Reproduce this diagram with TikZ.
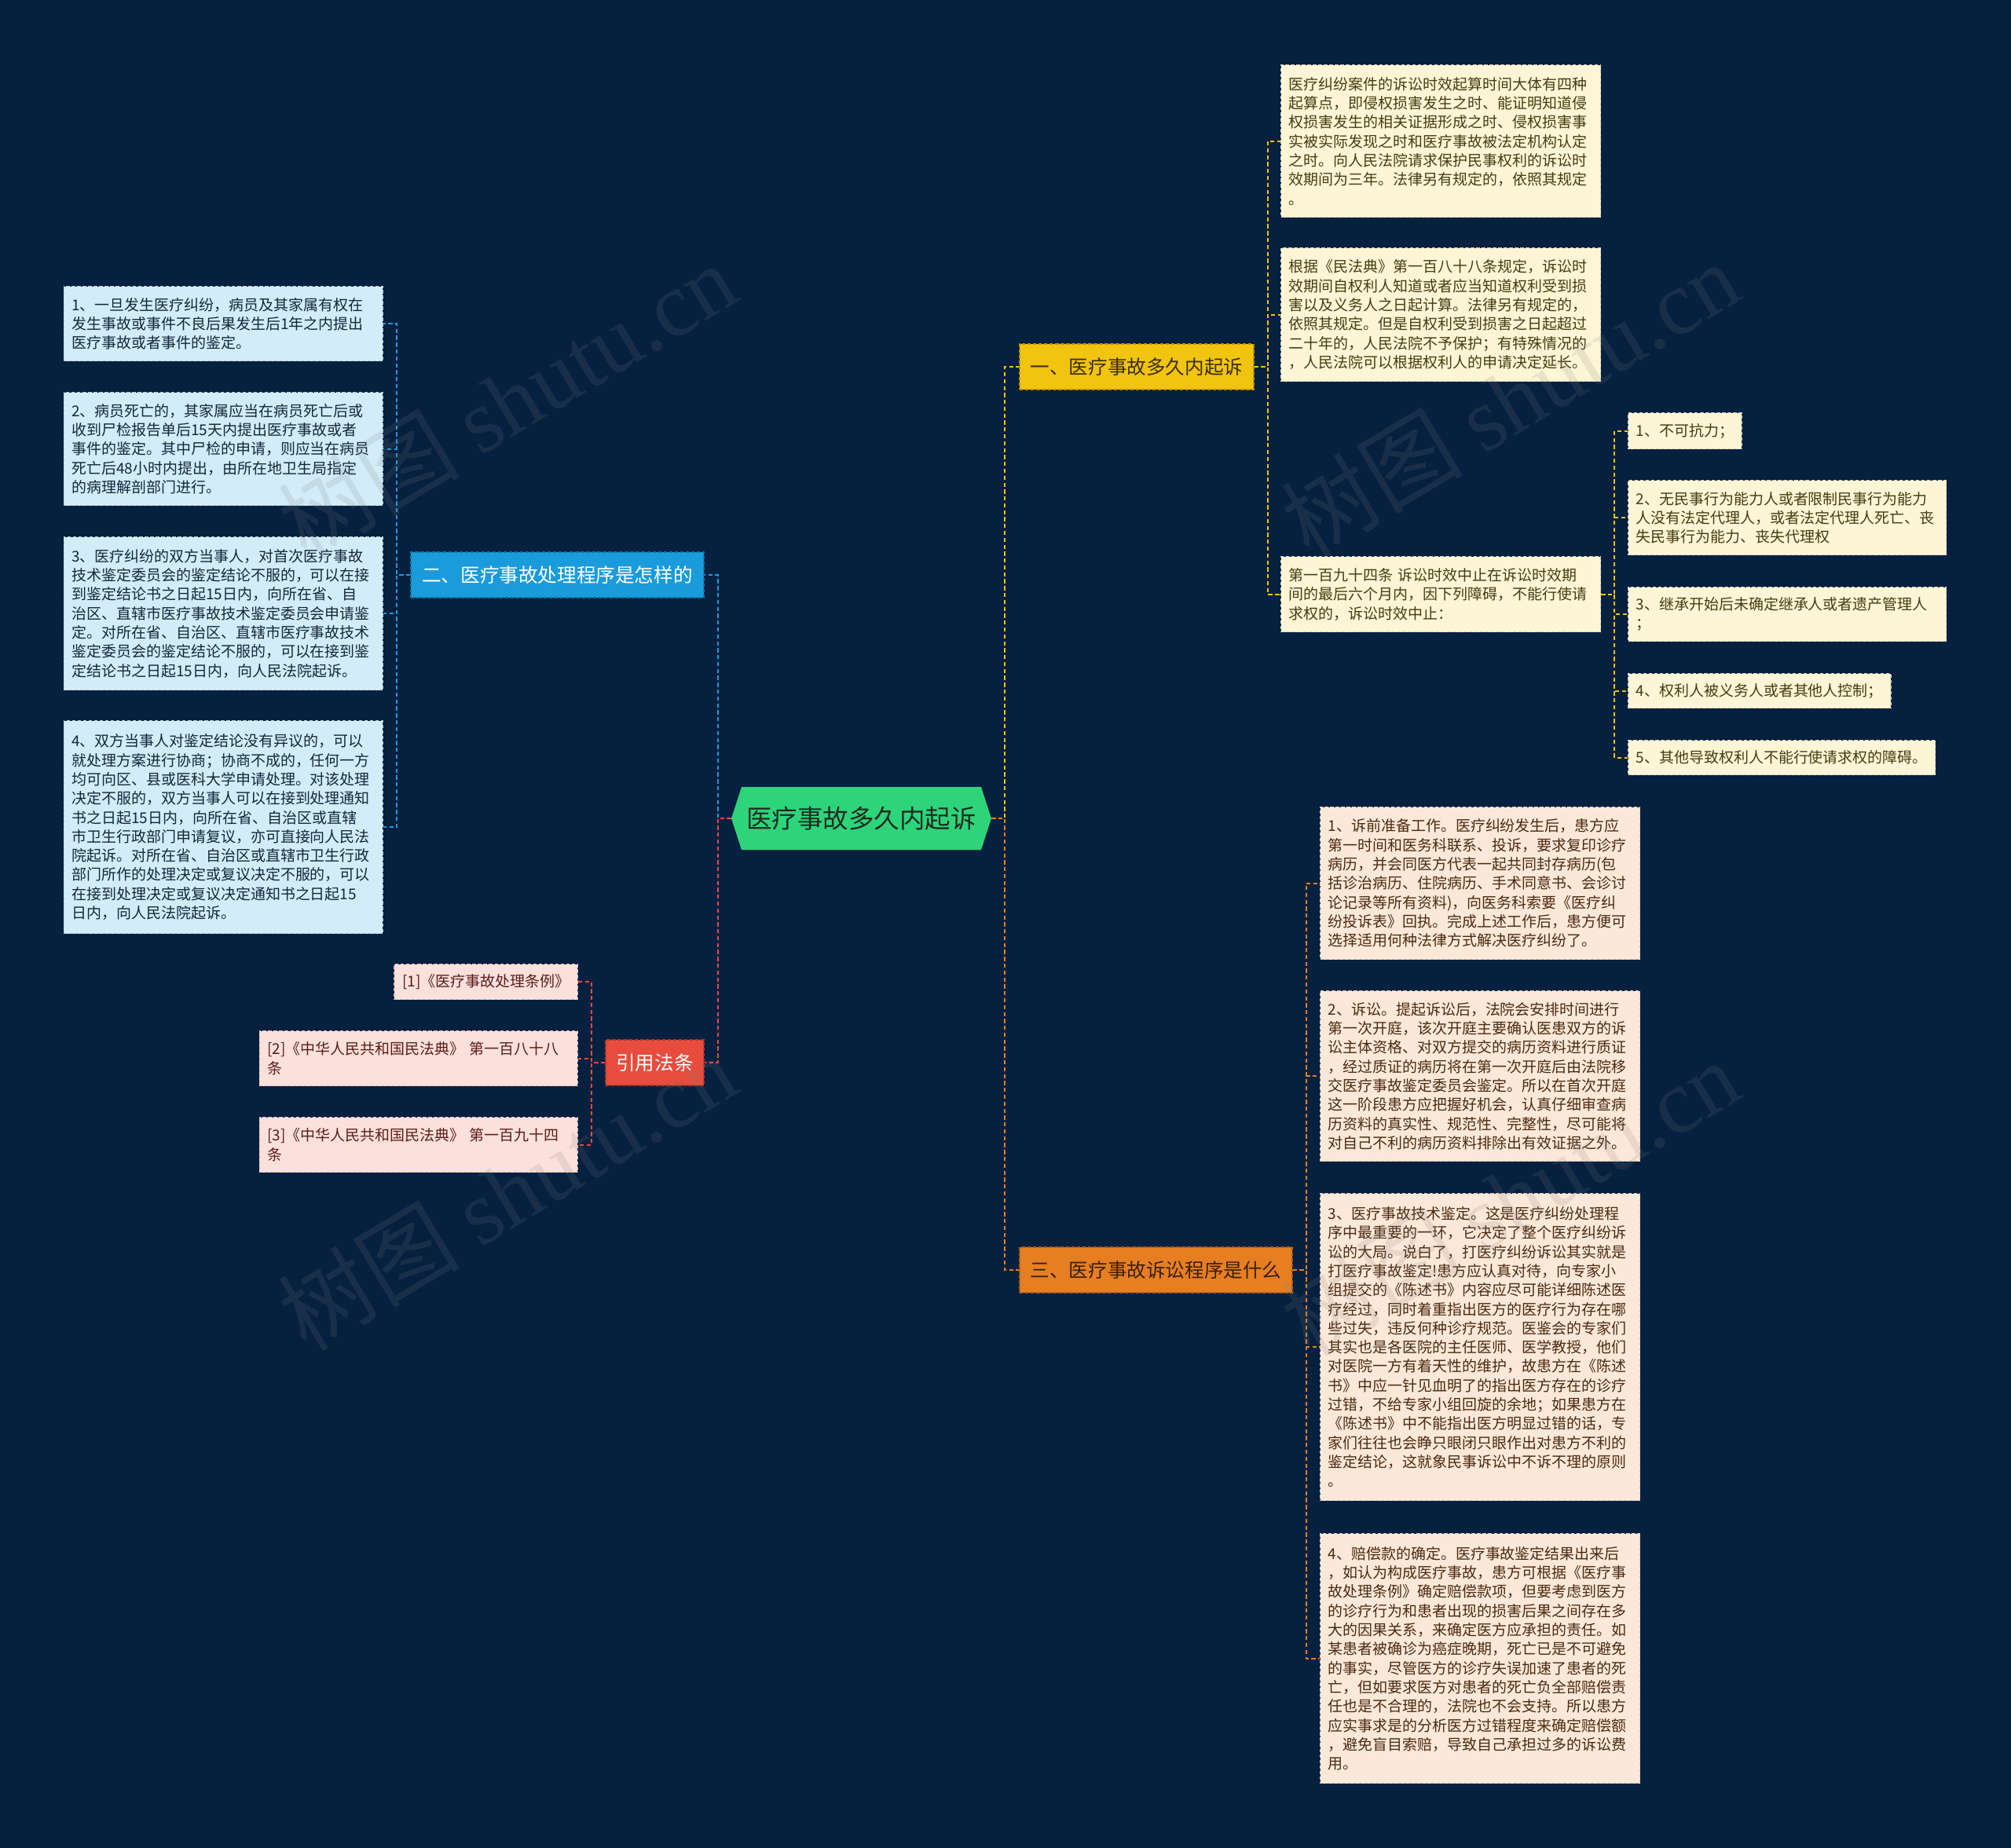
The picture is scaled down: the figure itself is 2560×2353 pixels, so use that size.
\documentclass[tikz,border=0pt]{standalone}
\usepackage{fontspec}
\usepackage{xcolor}
\usepackage{tikz}
\usetikzlibrary{positioning, shapes.symbols}

\newfontfamily\cjk{Noto Sans CJK SC}
\newfontfamily\wmserif{Liberation Serif}
\newcommand{\leaftext}{\cjk\fontsize{10.8}{13.84}\selectfont}
\newcommand{\branchtext}{\cjk\fontsize{14}{16}\selectfont}
\newcommand{\roottext}{\cjk\fontsize{18.5}{22}\selectfont}

\definecolor{bgnavy}{HTML}{06203F}
\definecolor{rootgreen}{HTML}{2ED47A}
\definecolor{roottxt}{HTML}{1B2B22}
\definecolor{ybr}{HTML}{F1C40F}
\definecolor{ybrtxt}{HTML}{3A2E05}
\definecolor{bbr}{HTML}{1A9BDB}
\definecolor{obr}{HTML}{E67E22}
\definecolor{obrtxt}{HTML}{3A1F05}
\definecolor{rbr}{HTML}{E74C3C}
\definecolor{ybox}{HTML}{FDF5D5}
\definecolor{ytxt}{HTML}{463C12}
\definecolor{obox}{HTML}{FCE8D8}
\definecolor{otxt}{HTML}{4A2A12}
\definecolor{bbox}{HTML}{D2ECF8}
\definecolor{btxt}{HTML}{14283C}
\definecolor{rbox}{HTML}{FCE0DC}
\definecolor{rtxt}{HTML}{5A1E18}

\begin{document}
\begin{tikzpicture}[
  x=0.02cm, y=-0.02cm,
  root/.style={shape=signal, signal to=east and west, signal pointer angle=144, fill=rootgreen, text=roottxt, font=\roottext, minimum width=6.62cm, minimum height=1.6cm, inner sep=0pt},
  branch/.style={draw, dash pattern=on 2.5pt off 1.5pt, line width=0.8pt, minimum height=1.16cm, inner sep=0pt, font=\branchtext},
  leaf/.style={draw, dash pattern=on 2.5pt off 1.5pt, line width=0.8pt, align=left, inner xsep=0.2cm, inner ysep=0.2cm, font=\leaftext},
  yleaf/.style={leaf, fill=ybox, draw=ybox!70!gray, text=ytxt, anchor=north west},
  oleaf/.style={leaf, fill=obox, draw=obox!70!gray, text=otxt, anchor=north west},
  bleaf/.style={leaf, fill=bbox, draw=bbox!70!gray, text=btxt, anchor=north east},
  rleaf/.style={leaf, fill=rbox, draw=rbox!70!gray, text=rtxt, anchor=north east},
  link/.style={line width=1.2pt, dash pattern=on 3pt off 2pt},
  yline/.style={link, draw=ybr},
  bline/.style={link, draw=bbr},
  oline/.style={link, draw=obr},
  rline/.style={link, draw=rbr},
  watermark/.style={text=gray, text opacity=0.16, rotate=31, font=\cjk\fontsize{66}{72}\selectfont}
]
\useasboundingbox (0,0) rectangle (2560,2353);
\fill[bgnavy] (0,0) rectangle (2560,2353);

% root and main branches
\node[root] (root) at (1096.5,1042) {医疗事故多久内起诉};
\node[branch, fill=ybr, draw=ybr!75!black, text=ybrtxt, minimum width=5.96cm] (q1) at (1447,467) {一、医疗事故多久内起诉};
\node[branch, fill=bbr, draw=bbr!75!black, text=white, minimum width=7.46cm] (q2) at (709.5,732) {二、医疗事故处理程序是怎样的};
\node[branch, fill=obr, draw=obr!75!black, text=obrtxt, minimum width=6.94cm] (q3) at (1471.5,1617) {三、医疗事故诉讼程序是什么};
\node[branch, fill=rbr, draw=rbr!75!black, text=white, minimum width=2.5cm] (cite) at (833.5,1353) {引用法条};

% branch one
\node[yleaf, text width=7.74cm, minimum height=3.88cm] (q1a) at (1630,82) {医疗纠纷案件的诉讼时效起算时间大体有四种\\
起算点，即侵权损害发生之时、能证明知道侵\\
权损害发生的相关证据形成之时、侵权损害事\\
实被实际发现之时和医疗事故被法定机构认定\\
之时。向人民法院请求保护民事权利的诉讼时\\
效期间为三年。法律另有规定的，依照其规定\\
。};
\node[yleaf, text width=7.74cm, minimum height=3.4cm] (q1b) at (1630,315) {根据《民法典》第一百八十八条规定，诉讼时\\
效期间自权利人知道或者应当知道权利受到损\\
害以及义务人之日起计算。法律另有规定的，\\
依照其规定。但是自权利受到损害之日起超过\\
二十年的，人民法院不予保护；有特殊情况的\\
，人民法院可以根据权利人的申请决定延长。};
\node[yleaf, text width=7.74cm, minimum height=1.92cm] (q1c) at (1630,708) {第一百九十四条~诉讼时效中止在诉讼时效期\\
间的最后六个月内，因下列障碍，不能行使请\\
求权的，诉讼时效中止：};
\node[yleaf, minimum height=0.92cm] (s1) at (2072,525) {1、不可抗力；};
\node[yleaf, text width=7.7cm, minimum height=1.9cm] (s2) at (2072,611) {2、无民事行为能力人或者限制民事行为能力\\
人没有法定代理人，或者法定代理人死亡、丧\\
失民事行为能力、丧失代理权};
\node[yleaf, text width=7.7cm, minimum height=1.38cm] (s3) at (2072,747) {3、继承开始后未确定继承人或者遗产管理人\\
；};
\node[yleaf, minimum height=0.88cm] (s4) at (2072,857) {4、权利人被义务人或者其他人控制；};
\node[yleaf, minimum height=0.88cm] (s5) at (2072,942) {5、其他导致权利人不能行使请求权的障碍。};

% branch two
\node[bleaf, text width=7.72cm, minimum height=1.9cm] (q2a) at (488,364) {1、一旦发生医疗纠纷，病员及其家属有权在\\
发生事故或事件不良后果发生后1年之内提出\\
医疗事故或者事件的鉴定。};
\node[bleaf, text width=7.72cm, minimum height=2.88cm] (q2b) at (488,499) {2、病员死亡的，其家属应当在病员死亡后或\\
收到尸检报告单后15天内提出医疗事故或者\\
事件的鉴定。其中尸检的申请，则应当在病员\\
死亡后48小时内提出，由所在地卫生局指定\\
的病理解剖部门进行。};
\node[bleaf, text width=7.72cm, minimum height=3.9cm] (q2c) at (488,683) {3、医疗纠纷的双方当事人，对首次医疗事故\\
技术鉴定委员会的鉴定结论不服的，可以在接\\
到鉴定结论书之日起15日内，向所在省、自\\
治区、直辖市医疗事故技术鉴定委员会申请鉴\\
定。对所在省、自治区、直辖市医疗事故技术\\
鉴定委员会的鉴定结论不服的，可以在接到鉴\\
定结论书之日起15日内，向人民法院起诉。};
\node[bleaf, text width=7.72cm, minimum height=5.42cm] (q2d) at (488,917) {4、双方当事人对鉴定结论没有异议的，可以\\
就处理方案进行协商；协商不成的，任何一方\\
均可向区、县或医科大学申请处理。对该处理\\
决定不服的，双方当事人可以在接到处理通知\\
书之日起15日内，向所在省、自治区或直辖\\
市卫生行政部门申请复议，亦可直接向人民法\\
院起诉。对所在省、自治区或直辖市卫生行政\\
部门所作的处理决定或复议决定不服的，可以\\
在接到处理决定或复议决定通知书之日起15\\
日内，向人民法院起诉。};

% branch three
\node[oleaf, text width=7.74cm, minimum height=3.88cm] (q3a) at (1680,1027) {1、诉前准备工作。医疗纠纷发生后，患方应\\
第一时间和医务科联系、投诉，要求复印诊疗\\
病历，并会同医方代表一起共同封存病历(包\\
括诊治病历、住院病历、手术同意书、会诊讨\\
论记录等所有资料)，向医务科索要《医疗纠\\
纷投诉表》回执。完成上述工作后，患方便可\\
选择适用何种法律方式解决医疗纠纷了。};
\node[oleaf, text width=7.74cm, minimum height=4.34cm] (q3b) at (1680,1261) {2、诉讼。提起诉讼后，法院会安排时间进行\\
第一次开庭，该次开庭主要确认医患双方的诉\\
讼主体资格、对双方提交的病历资料进行质证\\
，经过质证的病历将在第一次开庭后由法院移\\
交医疗事故鉴定委员会鉴定。所以在首次开庭\\
这一阶段患方应把握好机会，认真仔细审查病\\
历资料的真实性、规范性、完整性，尽可能将\\
对自己不利的病历资料排除出有效证据之外。};
\node[oleaf, text width=7.74cm, minimum height=7.82cm] (q3c) at (1680,1519) {3、医疗事故技术鉴定。这是医疗纠纷处理程\\
序中最重要的一环，它决定了整个医疗纠纷诉\\
讼的大局。说白了，打医疗纠纷诉讼其实就是\\
打医疗事故鉴定!患方应认真对待，向专家小\\
组提交的《陈述书》内容应尽可能详细陈述医\\
疗经过，同时着重指出医方的医疗行为存在哪\\
些过失，违反何种诊疗规范。医鉴会的专家们\\
其实也是各医院的主任医师、医学教授，他们\\
对医院一方有着天性的维护，故患方在《陈述\\
书》中应一针见血明了的指出医方存在的诊疗\\
过错，不给专家小组回旋的余地；如果患方在\\
《陈述书》中不能指出医方明显过错的话，专\\
家们往往也会睁只眼闭只眼作出对患方不利的\\
鉴定结论，这就象民事诉讼中不诉不理的原则\\
。};
\node[oleaf, text width=7.74cm, minimum height=6.36cm] (q3d) at (1680,1952) {4、赔偿款的确定。医疗事故鉴定结果出来后\\
，如认为构成医疗事故，患方可根据《医疗事\\
故处理条例》确定赔偿款项，但要考虑到医方\\
的诊疗行为和患者出现的损害后果之间存在多\\
大的因果关系，来确定医方应承担的责任。如\\
某患者被确诊为癌症晚期，死亡已是不可避免\\
的事实，尽管医方的诊疗失误加速了患者的死\\
亡，但如要求医方对患者的死亡负全部赔偿责\\
任也是不合理的，法院也不会支持。所以患方\\
应实事求是的分析医方过错程度来确定赔偿额\\
，避免盲目索赔，导致自己承担过多的诉讼费\\
用。};

% cited laws
\node[rleaf, minimum height=0.9cm] (cite1) at (736,1227) {[1]《医疗事故处理条例》};
\node[rleaf, text width=7.7cm, minimum height=1.4cm] (cite2) at (736,1312) {[2]《中华人民共和国民法典》~第一百八十八\\
条};
\node[rleaf, text width=7.7cm, minimum height=1.4cm] (cite3) at (736,1422) {[3]《中华人民共和国民法典》~第一百九十四\\
条};

% connectors
\draw[yline] (root.east) -- ++(17,0) |- (q1.west);
\draw[oline] (root.east) -- ++(17,0) |- (q3.west);
\draw[bline] (root.west) -- ++(-17,0) |- (q2.east);
\draw[rline] (root.west) -- ++(-17,0) |- (cite.east);
\foreach \leaf in {q1a, q1b, q1c}
  \draw[yline] (q1.east) -- ++(17,0) |- (\leaf.west);
\foreach \leaf in {s1, s2, s3, s4, s5}
  \draw[yline] (q1c.east) -- ++(17,0) |- (\leaf.west);
\foreach \leaf in {q2a, q2b, q2c, q2d}
  \draw[bline] (q2.west) -- ++(-17,0) |- (\leaf.east);
\foreach \leaf in {q3a, q3b, q3c, q3d}
  \draw[oline] (q3.east) -- ++(17,0) |- (\leaf.west);
\foreach \leaf in {cite1, cite2, cite3}
  \draw[rline] (cite.west) -- ++(-17,0) |- (\leaf.east);

% watermarks
\node[watermark] (wm1) at (645,510) {树图 {\wmserif shutu.cn}};
\node[watermark] (wm2) at (1922,508) {树图 {\wmserif shutu.cn}};
\node[watermark] (wm3) at (645,1518) {树图 {\wmserif shutu.cn}};
\node[watermark] (wm4) at (1922,1525) {树图 {\wmserif shutu.cn}};
\end{tikzpicture}
\end{document}
